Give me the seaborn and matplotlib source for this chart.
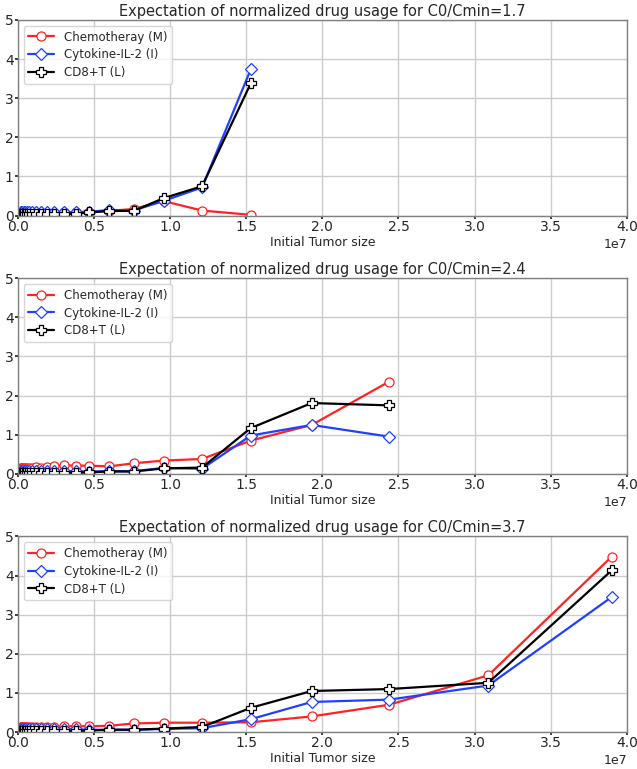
import numpy as np
import pandas as pd
import matplotlib
matplotlib.use('Agg')
import matplotlib.pyplot as plt
import seaborn as sns

# initial tumor sizes (x1e7)
tumor = [0.019, 0.024, 0.030, 0.038, 0.047, 0.060, 0.075, 0.095, 0.12, 0.15,
         0.19, 0.24, 0.30, 0.38, 0.47, 0.60, 0.76, 0.96, 1.21, 1.53, 1.93,
         2.44, 3.09, 3.90]

ratios = ['1.7', '2.4', '3.7']
n_points = [20, 22, 24]  # how many sizes each panel covers

chemo_17 = [0.04, 0.04, 0.05, 0.05, 0.05, 0.06, 0.06, 0.06, 0.06, 0.06,
            0.07, 0.07, 0.08, 0.09, 0.10, 0.12, 0.17, 0.37, 0.13, 0.02]
il2_17 = [0.10, 0.10, 0.10, 0.10, 0.10, 0.10, 0.10, 0.09, 0.09, 0.09,
          0.09, 0.08, 0.08, 0.08, 0.10, 0.14, 0.13, 0.38, 0.72, 3.74]
cd8_17 = [0.03, 0.03, 0.03, 0.03, 0.03, 0.03, 0.03, 0.03, 0.03, 0.03,
          0.03, 0.03, 0.04, 0.05, 0.08, 0.12, 0.12, 0.45, 0.75, 3.38]

chemo_24 = [0.15, 0.15, 0.15, 0.15, 0.16, 0.16, 0.16, 0.16, 0.17, 0.16,
            0.17, 0.19, 0.22, 0.21, 0.21, 0.19, 0.27, 0.34, 0.38, 0.85,
            1.25, 2.36]
il2_24 = [0.08, 0.08, 0.08, 0.08, 0.08, 0.07, 0.07, 0.07, 0.07, 0.07,
          0.07, 0.07, 0.07, 0.07, 0.06, 0.07, 0.07, 0.15, 0.13, 0.98,
          1.25, 0.95]
cd8_24 = [0.02, 0.02, 0.02, 0.02, 0.02, 0.02, 0.02, 0.02, 0.02, 0.02,
          0.02, 0.02, 0.03, 0.03, 0.04, 0.06, 0.06, 0.14, 0.16, 1.17,
          1.81, 1.75]

chemo_37 = [0.12, 0.12, 0.12, 0.12, 0.12, 0.12, 0.12, 0.12, 0.12, 0.12,
            0.12, 0.13, 0.15, 0.15, 0.15, 0.16, 0.22, 0.24, 0.24, 0.25,
            0.40, 0.70, 1.45, 4.48]
il2_37 = [0.07, 0.07, 0.07, 0.07, 0.07, 0.07, 0.07, 0.07, 0.07, 0.07,
          0.07, 0.07, 0.07, 0.07, 0.06, 0.06, 0.06, 0.08, 0.10, 0.33,
          0.77, 0.83, 1.19, 3.45]
cd8_37 = [0.02, 0.02, 0.02, 0.02, 0.02, 0.02, 0.02, 0.02, 0.02, 0.02,
          0.02, 0.02, 0.03, 0.03, 0.04, 0.06, 0.06, 0.09, 0.13, 0.62,
          1.05, 1.10, 1.26, 4.13]

panels = [(chemo_17, il2_17, cd8_17),
          (chemo_24, il2_24, cd8_24),
          (chemo_37, il2_37, cd8_37)]

series = [('Chemotheray (M)', '#ff2222', 'o', 6.5),
          ('Cytokine-IL-2 (I)', '#2040ff', 'D', 6),
          ('CD8+T (L)', 'black', 'P', 7)]

sns.set_theme(style='whitegrid')
plt.rcParams.update({
    'font.family': ['DejaVu Sans'],
    'axes.edgecolor': '0.5',
    'axes.linewidth': 1.0,
    'grid.color': '0.8',
    'xtick.bottom': True,
    'ytick.left': True,
    'xtick.major.size': 2.5,
    'ytick.major.size': 2.5,
    'xtick.color': '0.15',
    'ytick.color': '0.15',
})

fig, axes = plt.subplots(3, 1, figsize=(6.37, 7.69), dpi=100)
fig.subplots_adjust(left=0.028, right=0.984, bottom=0.048, top=0.974,
                    hspace=0.32)

for ax, ratio, n, vals in zip(axes, ratios, n_points, panels):
    x = np.array(tumor[:n]) * 1e7
    for (label, color, marker, ms), y in zip(series, vals):
        df = pd.DataFrame({'size': x, 'usage': y})
        sns.lineplot(data=df, x='size', y='usage', ax=ax, color=color,
                     marker=marker, markersize=ms, markerfacecolor='white',
                     markeredgecolor=color, markeredgewidth=0.9,
                     linewidth=1.6, label=label)
    ax.set_xlim(0, 4e7)
    ax.set_ylim(0, 5)
    ax.set_title(f'Expectation of normalized drug usage for C0/Cmin={ratio}',
                 fontsize=10.5, pad=3)
    ax.set_xlabel('Initial Tumor size', fontsize=9, labelpad=1.5)
    ax.set_ylabel('')
    ax.tick_params(labelsize=10, pad=0.5)
    ax.xaxis.get_offset_text().set_fontsize(9)
    ax.legend(loc='upper left', fontsize=8.5, frameon=True, edgecolor='0.8',
              framealpha=0.8, borderaxespad=0.5, handlelength=2.2,
              labelspacing=0.4)

fig.savefig('out.png', dpi=100)
